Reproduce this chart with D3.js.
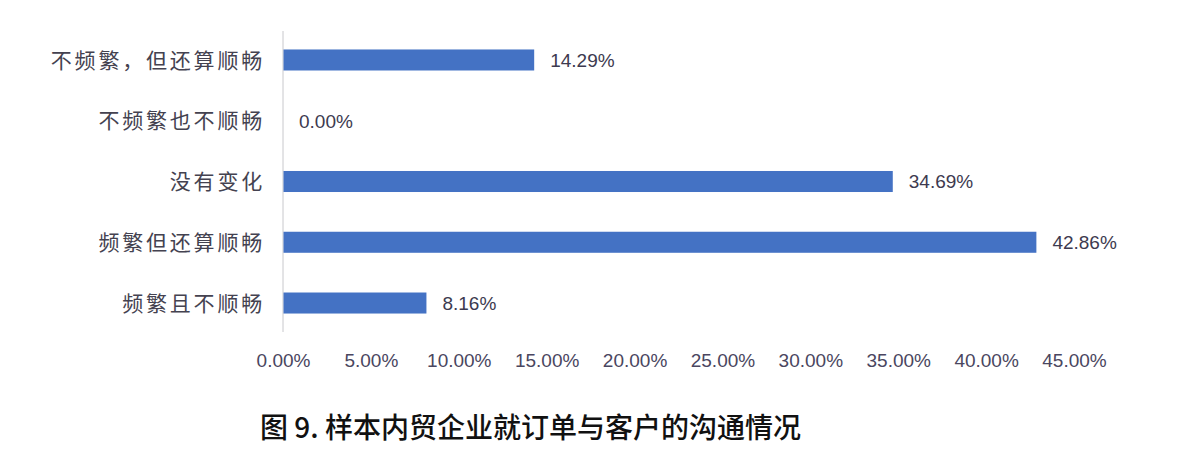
<!DOCTYPE html>
<html><head><meta charset="utf-8">
<script src="https://cdn.jsdelivr.net/npm/d3@7/dist/d3.min.js"></script>
<style>
html,body{margin:0;padding:0;background:#fff;}
svg{display:block;}
</style></head>
<body>
<svg id="chart" width="1192" height="458"></svg>
<script>
const categories = ["不频繁，但还算顺畅","不频繁也不顺畅","没有变化","频繁但还算顺畅","频繁且不顺畅"];
const values = [14.29, 0.00, 34.69, 42.86, 8.16];
const xTicks = [0,5,10,15,20,25,30,35,40,45];
const title = "图 9. 样本内贸企业就订单与客户的沟通情况";

const svg = d3.select("#chart");
const x = d3.scaleLinear().domain([0,45]).range([283,1074]);
const y = d3.scaleBand().domain(categories).range([29.6,333.4]).paddingInner(0.654).paddingOuter(0.327);

// axis line
svg.append("line").attr("x1",x(0)).attr("x2",x(0)).attr("y1",31).attr("y2",332)
  .attr("stroke","#c8c8cc").attr("stroke-width",1);

// bars
svg.selectAll("rect.bar").data(values).join("rect").attr("class","bar")
  .attr("x",x(0)+0.5).attr("y",(d,i)=>y(categories[i]))
  .attr("width",d=>Math.max(0,x(d)-x(0)-0.5)).attr("height",y.bandwidth())
  .attr("fill","#4472c4");

// value labels
svg.selectAll("text.val").data(values).join("text").attr("class","val")
  .attr("x",d=>x(d)+16).attr("y",(d,i)=>y(categories[i])+y.bandwidth()/2)
  .attr("dy","0.36em")
  .attr("font-family","'Liberation Sans', Arial, sans-serif").attr("font-size",19)
  .attr("fill","#3d3a4f").text(d=>d.toFixed(2)+"%");

// category labels
svg.selectAll("text.cat").data(categories).join("text").attr("class","cat")
  .attr("x",265).attr("y",d=>y(d)+y.bandwidth()/2).attr("dy","0.36em")
  .attr("text-anchor","end")
  .attr("font-family","'Noto Sans CJK SC', sans-serif").attr("font-size",21)
  .attr("letter-spacing","2.8px")
  .attr("fill","#444250").text(d=>d);

// x axis tick labels
const xAxis = d3.axisBottom(x).tickValues(xTicks).tickSize(0).tickPadding(0)
  .tickFormat(d=>d.toFixed(2)+"%");
const gx = svg.append("g").attr("transform","translate(0,353)").call(xAxis);
gx.select(".domain").remove();
gx.selectAll("text").attr("font-family","'Liberation Sans', Arial, sans-serif")
  .attr("font-size",19).attr("fill","#4a4660").attr("dy","0.71em");

// title
svg.append("text").attr("x",260).attr("y",428).attr("dy","0.36em")
  .attr("font-family","'Noto Sans CJK SC', sans-serif").attr("font-size",28)
  .attr("font-weight",500).attr("fill","#111").text(title);
</script>
</body></html>
